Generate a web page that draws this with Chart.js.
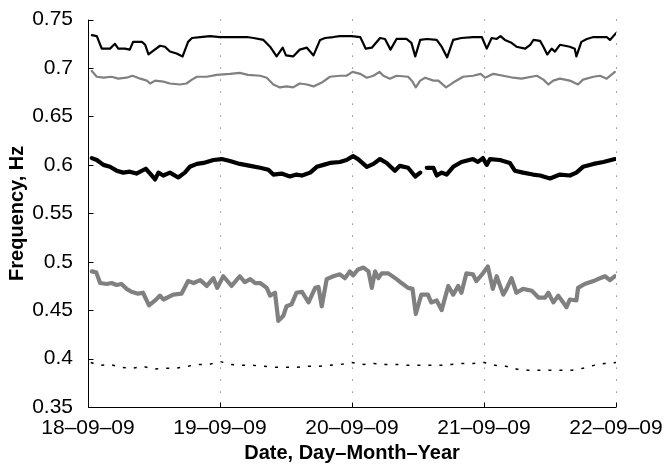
<!DOCTYPE html>
<html>
<head>
<meta charset="utf-8">
<script src="https://cdn.jsdelivr.net/npm/chart.js@4/dist/chart.umd.min.js"></script>
<style>
  html, body { margin: 0; padding: 0; background: #fff; }
  #wrap { width: 666px; height: 469px; }
</style>
</head>
<body>
<div id="wrap"><canvas id="chart"></canvas></div>
<script>
// Time axis is in hours since 18-09-09 00:00
const xTickHours = [0, 24, 48, 72, 96];
const xTickLabels = ['18\u201309\u201309', '19\u201309\u201309', '20\u201309\u201309', '21\u201309\u201309', '22\u201309\u201309'];
const yTicks = [0.35, 0.4, 0.45, 0.5, 0.55, 0.6, 0.65, 0.7, 0.75];
const yTickLabels = ['0.35', '0.4', '0.45', '0.5', '0.55', '0.6', '0.65', '0.7', '0.75'];

// Mode A: upper black trace
const modeAHours = [0.7,1.6,2.5,4.0,4.9,5.5,6.7,7.6,8.2,9.8,10.4,11.0,11.9,13.1,14.0,14.9,16.1,17.2,18.2,18.9,20.4,22.2,24.0,26.4,28.9,30.1,31.9,33.1,34.3,35.4,36.0,37.3,38.5,39.8,41.0,42.2,43.1,44.6,45.8,47.9,49.5,50.5,51.6,53.1,54.0,55.0,56.1,57.9,58.8,59.5,60.4,61.6,63.4,64.3,65.3,66.4,67.9,70.0,71.6,72.5,73.4,74.3,75.0,75.8,77.0,77.9,79.5,80.4,81.0,82.2,82.8,83.5,84.3,84.9,85.8,87.6,88.5,88.8,89.7,90.7,91.9,94.3,94.9,96.0];
const modeAFreq = [0.734,0.733,0.720,0.720,0.725,0.720,0.720,0.719,0.727,0.727,0.724,0.714,0.718,0.723,0.722,0.717,0.715,0.712,0.727,0.731,0.732,0.733,0.732,0.732,0.732,0.731,0.729,0.722,0.712,0.721,0.713,0.712,0.719,0.721,0.713,0.729,0.731,0.732,0.733,0.733,0.732,0.720,0.721,0.731,0.730,0.719,0.730,0.730,0.726,0.712,0.729,0.730,0.729,0.722,0.711,0.729,0.731,0.732,0.732,0.720,0.731,0.730,0.733,0.729,0.726,0.722,0.720,0.724,0.729,0.728,0.722,0.714,0.720,0.717,0.724,0.722,0.720,0.712,0.727,0.730,0.732,0.732,0.729,0.736];

// Mode B: grey trace just below
const modeBHours = [0.7,1.6,2.8,4.3,5.5,7.0,8.1,9.5,10.7,11.3,12.2,13.7,14.9,16.7,17.9,18.9,19.8,21.6,23.4,25.8,27.6,29.1,31.3,32.5,33.7,34.9,36.1,37.3,38.5,39.8,41.0,42.5,44.0,45.8,47.0,48.1,49.5,50.7,51.9,53.0,53.7,54.9,56.1,58.2,59.0,59.6,60.4,61.3,62.8,63.7,65.1,66.4,68.2,70.0,71.4,72.2,73.7,75.5,77.3,78.8,81.6,82.8,83.7,84.6,85.8,87.6,89.1,90.0,91.9,93.1,94.3,95.8];
const modeBFreq = [0.697,0.691,0.690,0.691,0.689,0.690,0.692,0.689,0.687,0.684,0.687,0.686,0.684,0.683,0.684,0.688,0.691,0.691,0.693,0.694,0.695,0.693,0.692,0.690,0.683,0.680,0.681,0.680,0.684,0.683,0.681,0.685,0.691,0.692,0.692,0.696,0.694,0.690,0.692,0.696,0.692,0.689,0.692,0.691,0.686,0.680,0.687,0.690,0.687,0.687,0.680,0.685,0.691,0.692,0.694,0.690,0.694,0.692,0.690,0.689,0.692,0.688,0.683,0.687,0.689,0.687,0.683,0.688,0.691,0.692,0.689,0.696];

// Mode C: thick black trace (null marks the data gap)
const modeCHours = [0.7,1.6,2.8,4.0,5.2,6.4,7.6,8.8,10.5,11.3,12.2,12.8,13.7,14.9,16.4,17.6,18.5,19.8,21.0,22.8,24.3,25.8,27.6,29.5,31.3,32.8,33.7,35.2,36.7,37.9,38.9,40.4,41.6,42.8,44.0,45.8,47.0,48.2,49.1,50.7,51.9,53.1,54.3,55.8,56.7,58.2,59.5,60.4,61.0,61.6,62.8,63.4,64.3,65.2,66.4,67.9,70.0,70.9,71.8,72.5,73.1,74.9,76.7,77.6,79.1,80.9,82.2,84.0,85.8,87.6,88.8,90.0,91.9,93.7,95.8];
const modeCFreq = [0.607,0.605,0.600,0.598,0.594,0.592,0.593,0.591,0.596,0.591,0.585,0.592,0.589,0.592,0.587,0.592,0.598,0.601,0.602,0.605,0.606,0.604,0.601,0.599,0.597,0.595,0.590,0.591,0.588,0.590,0.589,0.592,0.598,0.600,0.602,0.603,0.605,0.609,0.606,0.598,0.601,0.606,0.602,0.594,0.599,0.597,0.588,0.592,null,0.597,0.597,0.589,0.592,0.590,0.598,0.603,0.606,0.603,0.607,0.600,0.606,0.605,0.602,0.594,0.592,0.590,0.589,0.586,0.590,0.589,0.592,0.598,0.601,0.603,0.606];

// Mode D: thick grey trace
const modeDHours = [0.7,1.5,2.2,3.4,4.3,5.2,6.1,7.0,7.9,9.1,10.0,11.1,12.2,13.1,13.7,15.5,17.0,18.2,19.2,20.4,21.6,22.8,23.5,24.6,26.1,27.6,28.5,29.5,30.4,31.3,32.5,33.1,34.0,34.6,35.5,36.1,37.0,37.9,38.9,40.1,41.3,41.9,42.5,43.4,44.6,45.8,46.7,47.6,48.2,49.1,50.1,51.0,51.6,52.2,52.8,53.4,54.6,56.1,57.0,58.2,59.0,59.6,60.6,61.8,62.4,63.4,64.3,65.5,66.4,67.3,67.9,68.8,70.0,70.6,71.8,72.7,73.6,74.3,75.5,76.1,77.0,77.9,79.1,80.7,81.9,83.1,83.7,84.6,85.5,86.4,87.0,87.6,88.8,89.1,90.3,91.9,93.1,94.0,94.9,95.8];
const modeDFreq = [0.490,0.489,0.478,0.477,0.478,0.476,0.477,0.472,0.469,0.467,0.468,0.455,0.460,0.465,0.461,0.466,0.467,0.480,0.478,0.481,0.475,0.483,0.473,0.485,0.475,0.485,0.479,0.482,0.478,0.478,0.473,0.465,0.468,0.439,0.444,0.454,0.456,0.468,0.469,0.458,0.473,0.474,0.454,0.482,0.485,0.487,0.483,0.490,0.486,0.492,0.494,0.490,0.473,0.490,0.483,0.488,0.488,0.482,0.478,0.473,0.472,0.446,0.466,0.466,0.458,0.460,0.450,0.475,0.466,0.475,0.468,0.488,0.487,0.480,0.488,0.495,0.472,0.485,0.466,0.472,0.483,0.468,0.472,0.470,0.463,0.463,0.468,0.458,0.465,0.458,0.453,0.461,0.460,0.473,0.477,0.480,0.483,0.485,0.481,0.485];

// Mode E: dotted trace near 0.39 Hz
const modeEHours = [0.5,2,4,6,8,10,12,14,16,18,20,22,24,26,28,30,32,34,36,38,40,42,44,46,48,50,52,54,56,58,60,62,64,66,68,70,72,74,76,78,80,82,84,86,88,90,92,94,96];
const modeEFreq = [0.396,0.393,0.394,0.391,0.390,0.392,0.389,0.390,0.390,0.392,0.394,0.394,0.397,0.394,0.393,0.393,0.392,0.391,0.391,0.391,0.392,0.392,0.393,0.394,0.396,0.394,0.395,0.394,0.394,0.393,0.393,0.393,0.393,0.394,0.395,0.395,0.396,0.393,0.392,0.389,0.388,0.388,0.388,0.388,0.388,0.390,0.393,0.395,0.396];

const toPoints = (xs, ys) => xs.map((x, i) => ({ x, y: ys[i] }));

const FONT = '"Liberation Sans", Arial, Helvetica, sans-serif';

function trace(xs, ys, color, width, dash) {
  return {
    data: toPoints(xs, ys),
    borderColor: color,
    borderWidth: width,
    borderDash: dash || [],
    pointRadius: 0,
    tension: 0,
    spanGaps: false,
    borderJoinStyle: 'round',
    borderCapStyle: dash ? 'butt' : 'round',
    fill: false
  };
}

// Dotted vertical grid, axis lines and inward tick marks
const axesPlugin = {
  id: 'matlabAxes',
  beforeDatasetsDraw(chart) {
    const { ctx, chartArea: a, scales: { x } } = chart;
    ctx.save();
    ctx.strokeStyle = '#555';
    ctx.lineWidth = 1;
    ctx.setLineDash([1, 11]);
    xTickHours.slice(1).forEach(h => {
      const px = Math.round(x.getPixelForValue(h)) + 0.5;
      ctx.beginPath();
      ctx.moveTo(px, a.top);
      ctx.lineTo(px, a.bottom);
      ctx.stroke();
    });
    ctx.restore();
  },
  afterDatasetsDraw(chart) {
    const { ctx, chartArea: a, scales: { x, y } } = chart;
    ctx.save();
    ctx.strokeStyle = '#000';
    ctx.lineWidth = 1;
    const L = Math.round(a.left) + 0.5;
    const B = Math.round(a.bottom) + 0.5;
    ctx.beginPath();
    ctx.moveTo(L, a.top);
    ctx.lineTo(L, B);
    ctx.lineTo(x.getPixelForValue(96), B);
    yTicks.forEach(v => {
      const py = Math.round(y.getPixelForValue(v)) + 0.5;
      ctx.moveTo(L, py);
      ctx.lineTo(L + 5, py);
    });
    xTickHours.forEach(h => {
      const px = Math.round(x.getPixelForValue(h)) + 0.5;
      ctx.moveTo(px, B);
      ctx.lineTo(px, B - 5);
    });
    ctx.stroke();
    ctx.restore();
  }
};

new Chart(document.getElementById('chart'), {
  type: 'line',
  data: {
    datasets: [
      trace(modeAHours, modeAFreq, '#000000', 2.2),
      trace(modeBHours, modeBFreq, '#808080', 2.2),
      trace(modeCHours, modeCFreq, '#000000', 4.2),
      trace(modeDHours, modeDFreq, '#808080', 4.2),
      trace(modeEHours, modeEFreq, '#000000', 1.5, [3, 8])
    ]
  },
  options: {
    responsive: true,
    maintainAspectRatio: false,
    animation: false,
    events: [],
    layout: { padding: { left: 0, right: 50, top: 14, bottom: 0 } },
    plugins: { legend: { display: false }, tooltip: { enabled: false } },
    scales: {
      x: {
        type: 'linear',
        min: 0,
        max: 96,
        afterBuildTicks(s) { s.ticks = xTickHours.map(v => ({ value: v })); },
        afterFit(s) { s.height = 62; },
        grid: { display: false },
        border: { display: false },
        ticks: {
          color: '#000',
          padding: 1,
          maxRotation: 0,
          font: { family: FONT, size: 21 },
          callback: v => xTickLabels[xTickHours.indexOf(v)]
        },
        title: {
          display: true,
          text: 'Date, Day\u2013Month\u2013Year',
          color: '#000',
          font: { family: FONT, size: 20, weight: 'bold' },
          padding: { top: 0, bottom: 4 }
        }
      },
      y: {
        min: 0.35,
        max: 0.75,
        afterBuildTicks(s) { s.ticks = yTicks.map(v => ({ value: v })); },
        afterFit(s) { s.width = 88; },
        grid: { display: false },
        border: { display: false },
        ticks: {
          color: '#000',
          padding: 7,
          font: { family: FONT, size: 21 },
          callback: v => yTickLabels[yTicks.findIndex(t => Math.abs(t - v) < 1e-9)]
        },
        title: {
          display: true,
          text: 'Frequency, Hz',
          color: '#000',
          font: { family: FONT, size: 20, weight: 'bold' },
          padding: { top: 5, bottom: 0 }
        }
      }
    }
  },
  plugins: [axesPlugin]
});
</script>
</body>
</html>
